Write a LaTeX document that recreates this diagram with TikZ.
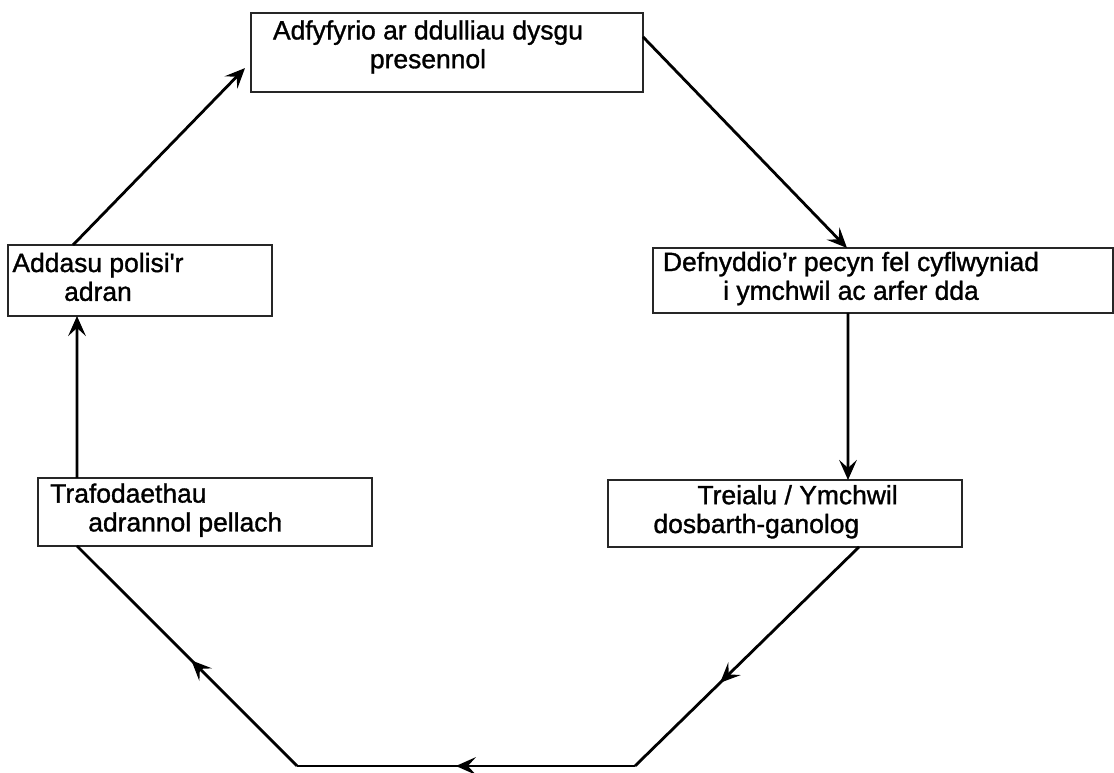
\documentclass[tikz,border=0pt]{standalone}
\usepackage{fontspec}
\setmainfont{Liberation Sans}
\newfontfamily\stagefont{Liberation Sans}[FakeBold=1.2]
\usetikzlibrary{arrows.meta, calc, decorations.markings}

\tikzset{
  stagebox/.style={draw=black!85, line width=0.8pt, inner sep=0pt, outer sep=0pt},
  stagetext/.style={font=\stagefont\fontsize{18.8}{20.5}\selectfont, inner sep=0pt},
  flow/.style={line width=2pt},
  midarrow/.style={postaction={decorate}, decoration={markings,
    mark=at position #1 with {\arrow{Stealth[length=5mm, width=4.4mm, inset=2mm]}}}}
}

\begin{document}
\begin{tikzpicture}[>={Stealth[length=5mm, width=4.4mm, inset=2mm]}]
\useasboundingbox (0,0) rectangle (27.85,19.325);

% Top box
\node[stagebox, minimum width=9.8cm, minimum height=1.975cm] (reflect) at (11.175,18.0125) {};
\node[stagetext, align=center] (reflecttxt) at (10.7,18.15) {Adfyfyrio ar ddulliau dysgu\\presennol};

% Right box (runs off the page)
\node[stagebox, minimum width=11.5cm, minimum height=1.625cm] (usepack) at (22.075,12.3125) {};
\node[stagetext, align=center] (usepacktxt) at (21.275,12.36) {Defnyddio’r pecyn fel cyflwyniad\\i ymchwil ac arfer dda};

% Lower right box
\node[stagebox, minimum width=8.85cm, minimum height=1.675cm] (trial) at (19.625,6.4875) {};
\node[stagetext, align=left, anchor=west] (trialtxt) at (16.33,6.53) {\hspace*{1.1cm}Treialu / Ymchwil\\dosbarth-ganolog};

% Lower left box
\node[stagebox, minimum width=8.35cm, minimum height=1.7cm] (discuss) at (5.125,6.525) {};
\node[stagetext, align=left, anchor=west] (discusstxt) at (1.25,6.57) {Trafodaethau\\\hspace*{0.95cm}adrannol pellach};

% Upper left box
\node[stagebox, minimum width=6.6cm, minimum height=1.775cm] (policy) at (3.5,12.3125) {};
\node[stagetext, align=center] (policytxt) at (2.45,12.4) {Addasu polisi\textquotesingle r\\adran};

% Corners of the bottom run
\coordinate (cornerR) at (15.875,0.175);
\coordinate (cornerL) at (7.425,0.175);

% Cycle
\draw[flow, ->] ([yshift=0.39cm]reflect.east) -- ([xshift=-0.9cm]usepack.north);
\draw[flow, ->] ([xshift=-0.875cm]usepack.south) -- ([xshift=1.575cm]trial.north);
\draw[flow, midarrow=0.62] ([xshift=1.85cm]trial.south) -- (cornerR);
\draw[flow, midarrow=0.53] (cornerR) -- (cornerL);
\draw[flow, midarrow=0.48] (cornerL) -- ([xshift=-3.2cm]discuss.south);
\draw[flow, ->] ([xshift=-3.2cm]discuss.north) -- ([xshift=-1.575cm]policy.south);
\draw[flow, ->] ([xshift=-1.675cm]policy.north) -- ([xshift=-0.15cm, yshift=-0.39cm]reflect.west);

\end{tikzpicture}
\end{document}
